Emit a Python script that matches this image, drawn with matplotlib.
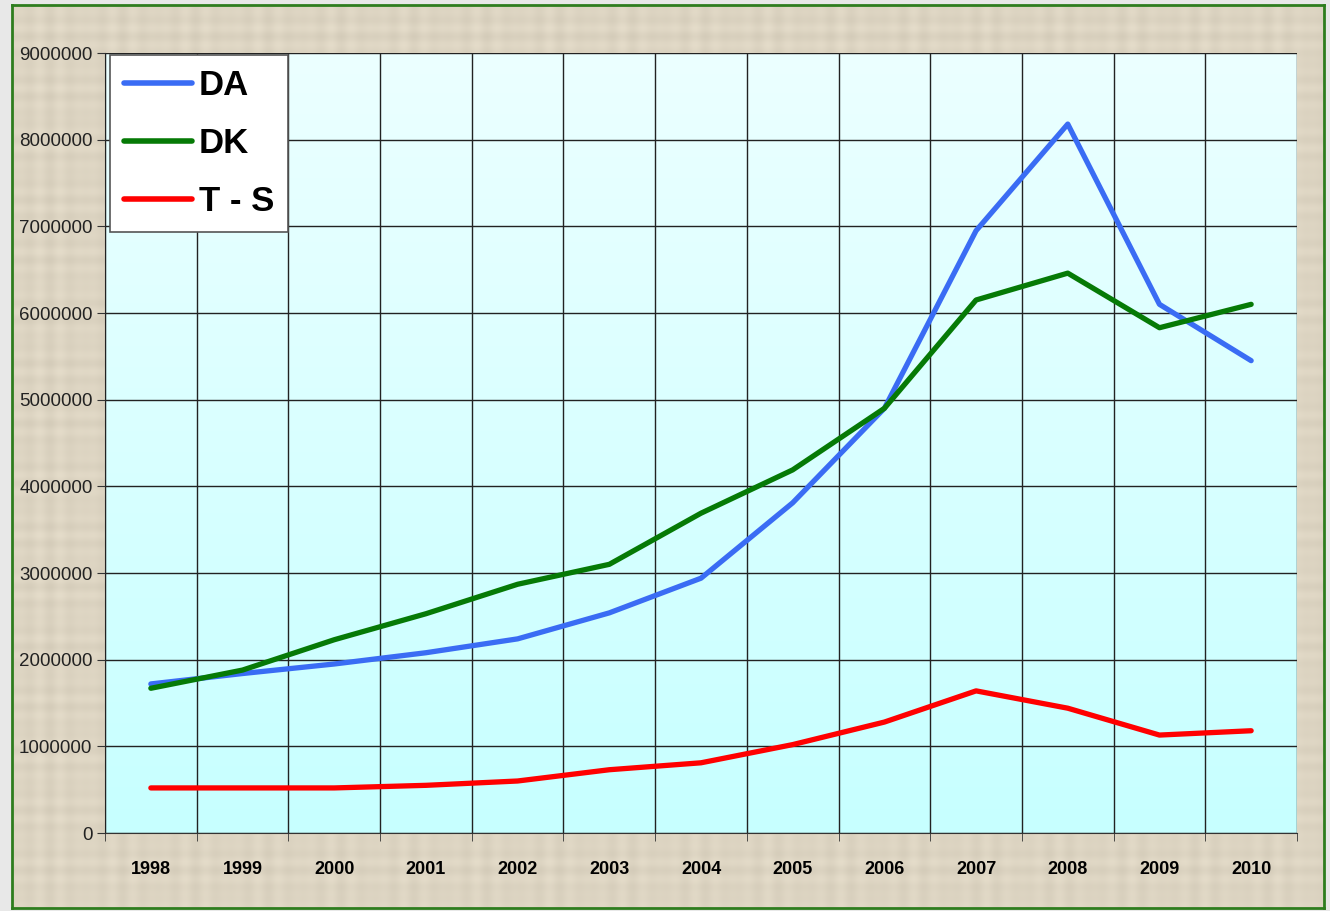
import numpy as np
import matplotlib.pyplot as plt
from matplotlib.lines import Line2D

years = ['1998', '1999', '2000', '2001', '2002', '2003', '2004',
         '2005', '2006', '2007', '2008', '2009', '2010']
da = [1720000, 1840000, 1950000, 2080000, 2240000, 2540000, 2940000,
      3810000, 4900000, 6950000, 8180000, 6100000, 5450000]
dk = [1670000, 1880000, 2230000, 2530000, 2870000, 3100000, 3690000,
      4190000, 4900000, 6150000, 6460000, 5830000, 6100000]
ts = [520000, 520000, 520000, 550000, 600000, 730000, 810000,
      1020000, 1280000, 1640000, 1440000, 1130000, 1180000]

W, H = 1330, 911
fig = plt.figure(figsize=(W / 100, H / 100), dpi=100)
fig.patch.set_facecolor('#e8e8e8')

# textured beige panel (deterministic weave pattern)
bg = fig.add_axes([12 / W, 1 - 908 / H, 1312 / W, 903 / H], zorder=0)
yy, xx = np.mgrid[0:300, 0:440]
tex = (0.5 * np.sin(xx * 0.9) * np.sin(xx * 0.13) + 0.5 * np.sin(yy * 1.1) * np.sin(yy * 0.17))
base = np.array([0.865, 0.832, 0.76])
img = np.clip(base[None, None, :] + 0.035 * tex[:, :, None], 0, 1)
bg.imshow(img, aspect='auto', interpolation='bilinear')
bg.set_xticks([])
bg.set_yticks([])
for s in bg.spines.values():
    s.set_color('#2e7d1e')
    s.set_linewidth(2)

# plot area: left 105, right 1297, top 53, bottom 833
ax = fig.add_axes([105 / W, 1 - 833 / H, 1192 / W, 780 / H], zorder=1)
x = np.arange(len(years))
ax.set_xlim(-0.5, len(years) - 0.5)
ax.set_ylim(0, 9000000)

grad = np.linspace(0, 1, 256)[:, None]
c_top = np.array([0.925, 1.0, 1.0])
c_bot = np.array([0.78, 1.0, 1.0])
gimg = c_bot[None, None, :] * (1 - grad[:, :, None]) + c_top[None, None, :] * grad[:, :, None]
ax.imshow(gimg, extent=[-0.5, len(years) - 0.5, 0, 9000000], origin='lower',
          aspect='auto', zorder=0)

ax.plot(x, ts, color='#ff0000', lw=3.8, solid_capstyle='round', zorder=3)
ax.plot(x, da, color='#3a6cf4', lw=3.8, solid_capstyle='round', zorder=3)
ax.plot(x, dk, color='#067a06', lw=3.8, solid_capstyle='round', zorder=4)

ax.set_yticks(np.arange(0, 9000001, 1000000))
ax.set_yticklabels([str(v) for v in range(0, 9000001, 1000000)],
                   fontsize=13.5, family='Liberation Sans', color='#222222')
ax.set_xticks(x)
ax.set_xticklabels(years, fontsize=13, fontweight='bold', family='Liberation Sans')
ax.set_xticks(np.arange(-0.5, len(years)), minor=True)
ax.tick_params(axis='x', which='major', length=0, pad=20)
ax.tick_params(axis='x', which='minor', length=6, color='#333333')
ax.tick_params(axis='y', length=6, color='#333333', pad=3)
ax.grid(True, axis='y', color='#222222', lw=1)
ax.grid(True, axis='x', which='minor', color='#222222', lw=1)
ax.set_axisbelow(False)
for s in ['top', 'right']:
    ax.spines[s].set_visible(False)
ax.spines['left'].set_color('#333333')
ax.spines['bottom'].set_color('#333333')

handles = [Line2D([], [], color='#3a6cf4', lw=4, solid_capstyle='round'),
           Line2D([], [], color='#067a06', lw=4, solid_capstyle='round'),
           Line2D([], [], color='#ff0000', lw=4, solid_capstyle='round')]
leg = ax.legend(handles, ['DA', 'DK', 'T - S'], loc='upper left',
                bbox_to_anchor=(5 / 1192, 1 - 2 / 780), borderaxespad=0,
                prop={'family': 'Liberation Sans', 'weight': 'bold', 'size': 25},
                handlelength=1.95, handletextpad=0.2, labelspacing=0.72,
                fancybox=False, framealpha=1, edgecolor='#555555',
                borderpad=0.4)
leg.get_frame().set_linewidth(1.2)
leg.set_zorder(5)

fig.savefig('out.png', dpi=100, facecolor=fig.get_facecolor())
